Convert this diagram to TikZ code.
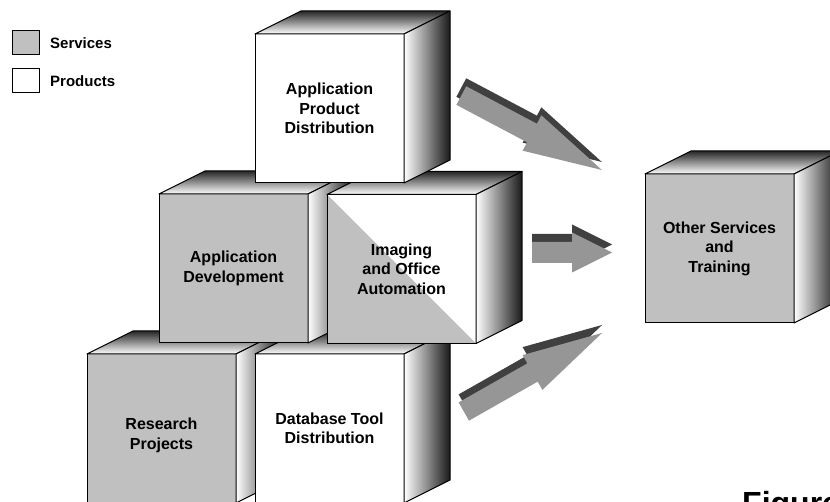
\documentclass[tikz,border=0pt]{standalone}
\usepackage{fontspec}
\setmainfont{Liberation Sans}
\definecolor{svcgray}{HTML}{C0C0C0}
\definecolor{arrowgray}{HTML}{969696}
\definecolor{arrowdark}{HTML}{404040}
\tikzset{
  cubefront/.style={draw=black, line width=1pt, minimum width=149pt, minimum height=149pt,
    inner sep=0pt, outer sep=0pt, align=center, anchor=north west,
    font=\fontsize{16}{19.5}\selectfont\bfseries},
  cubelabel/.style={inner sep=0pt, align=center, font=\fontsize{16}{19.5}\selectfont\bfseries},
  svc/.style={fill=svcgray},
  prd/.style={fill=white},
  topface/.style={draw=black, line width=1pt, line join=round, top color=black!85, bottom color=white},
  sideface/.style={draw=black, line width=1pt, line join=round, left color=white, right color=black!90},
  legbox/.style={draw=black, line width=1pt, minimum width=27pt, minimum height=24pt, inner sep=0pt},
  legtext/.style={anchor=west, inner sep=0pt, font=\fontsize{15}{18}\selectfont\bfseries},
  arrowbody/.style={fill=arrowgray},
  arrowshadow/.style={fill=arrowdark},
}
\newcommand\cubefaces[1]{%
  \shadedraw[topface] (#1.north west) -- ++(46,-23) -- ++(149,0) -- (#1.north east) -- cycle;
  \shadedraw[sideface] (#1.north east) -- ++(46,-23) -- ++(0,149) -- (#1.south east) -- cycle;
}
% #1 x, #2 y (base centre of head), #3 angle, #4 shaft length, #5 head length
\newcommand\blockarrow[5]{%
  \begin{scope}[shift={(#1,#2-8)}, rotate=#3]
    \fill[arrowshadow] (-#4,-10.5) -- (0,-10.5) -- (0,-20) -- (#5,0) -- (0,20) -- (0,10.5) -- (-#4,10.5) -- cycle;
  \end{scope}
  \begin{scope}[shift={(#1,#2)}, rotate=#3]
    \fill[arrowbody] (-#4,-10.5) -- (0,-10.5) -- (0,-20) -- (#5,0) -- (0,20) -- (0,10.5) -- (-#4,10.5) -- cycle;
  \end{scope}
}
\begin{document}
\begin{tikzpicture}[x=1pt,y=-1pt]
\useasboundingbox (0,0) rectangle (830,502);
\clip (0,0) rectangle (830,502);
\fill[white] (0,0) rectangle (830,502);

% legend
\node[legbox, svc] (lsvc) at (25.5,43) {};
\node[legtext] (lsvct) at (50,43) {Services};
\node[legbox, prd] (lprd) at (25.5,80.5) {};
\node[legtext] (lprdt) at (50,81) {Products};

% bottom row
\node[cubefront, svc] (rp) at (87,354) {};
\node[cubelabel] (rpt) at ([yshift=-7pt]rp.center) {Research\\Projects};
\cubefaces{rp}
\node[cubefront, prd] (db) at (255,354) {Database Tool\\Distribution};
\cubefaces{db}

% middle row
\node[cubefront, svc] (ad) at (159,194) {Application\\Development};
\cubefaces{ad}
\node[cubefront, prd, path picture={\fill[svcgray] (path picture bounding box.north west) -- (path picture bounding box.south east) -- (path picture bounding box.south west) -- cycle;}] (io) at (327,194.5) {Imaging\\and Office\\Automation};
\cubefaces{io}

% top
\node[cubefront, prd] (apd) at (255,34) {Application\\Product\\Distribution};
\cubefaces{apd}

% right
\node[cubefront, svc] (ost) at (645,174) {Other Services\\and\\Training};
\cubefaces{ost}

% arrows
\blockarrow{532}{133}{-27.9}{80}{79}
\blockarrow{572}{252.5}{0}{40}{40}
\blockarrow{532.5}{372.5}{29.6}{79}{80}

% caption (cut off at the lower edge, as in the reference)
\node[anchor=base west, inner sep=0pt, font=\fontsize{32}{38}\selectfont\bfseries] (fig) at (742,514) {Figure};
\end{tikzpicture}
\end{document}
